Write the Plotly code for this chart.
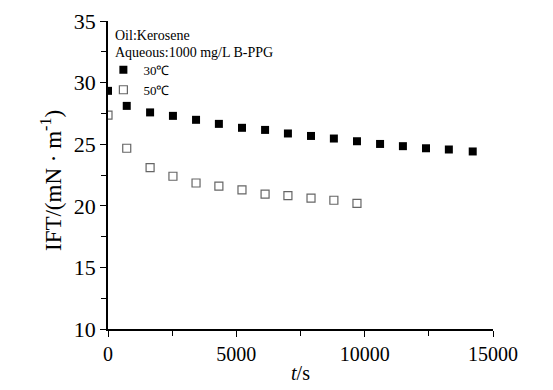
import plotly.graph_objects as go

t30 = [0, 730, 1640, 2530, 3430, 4320, 5220, 6120, 7010, 7910, 8800, 9700, 10600, 11490, 12390, 13280, 14210]
ift30 = [29.33, 28.11, 27.58, 27.30, 26.98, 26.65, 26.33, 26.16, 25.87, 25.67, 25.46, 25.24, 25.02, 24.84, 24.67, 24.57, 24.41]
t50 = [0, 730, 1640, 2530, 3430, 4320, 5220, 6120, 7010, 7910, 8800, 9700]
ift50 = [27.36, 24.67, 23.10, 22.40, 21.85, 21.60, 21.30, 20.94, 20.83, 20.63, 20.45, 20.20]
x_ticks = [0, 5000, 10000, 15000]
x_ticktext = ["0", "5000", "10000", "15000"]
y_ticks = [10, 15, 20, 25, 30, 35]

font = "Liberation Serif, Times New Roman, serif"

fig = go.Figure()
fig.add_trace(go.Scatter(x=t30, y=ift30, mode="markers", name="30℃",
                         marker=dict(symbol="square", size=8, color="black")))
fig.add_trace(go.Scatter(x=t50, y=ift50, mode="markers", name="50℃",
                         marker=dict(symbol="square-open", size=8, color="#666666",
                                     line=dict(width=1.2, color="#666666"))))

fig.update_layout(
    width=553, height=390,
    margin=dict(l=108, r=60, t=21, b=61, autoexpand=False),
    paper_bgcolor="white", plot_bgcolor="white",
    font=dict(family=font, color="black"),
    showlegend=True,
    legend=dict(x=-0.012, y=0.89, xanchor="left", yanchor="top",
                font=dict(size=13, family=font), bgcolor="rgba(0,0,0,0)",
                itemwidth=30, tracegroupgap=0),
    xaxis=dict(range=[0, 15000], showline=True, linecolor="black", linewidth=1.5,
               ticks="outside", ticklen=6, tickwidth=1.2, tickcolor="black",
               tickvals=x_ticks, ticktext=x_ticktext, showgrid=False, zeroline=False,
               automargin=False,
               minor=dict(ticks="outside", ticklen=5, tickwidth=1.2, tickcolor="black",
                          tickvals=[2500, 7500, 12500], showgrid=False),
               tickfont=dict(size=20, family=font),
               title=dict(text="<i>t</i>/s", font=dict(size=20, family=font), standoff=2)),
    yaxis=dict(range=[10, 35], showline=True, linecolor="black", linewidth=1.5,
               ticks="outside", ticklen=6, tickwidth=1.2, tickcolor="black",
               tickvals=y_ticks, showgrid=False, zeroline=False,
               automargin=False,
               minor=dict(ticks="outside", ticklen=5, tickwidth=1.2, tickcolor="black",
                          tickvals=[12.5, 17.5, 22.5, 27.5, 32.5], showgrid=False),
               tickfont=dict(size=22, family=font)),
    annotations=[
        dict(text="Oil:Kerosene", x=0.012, y=0.985, xref="paper", yref="paper",
             xanchor="left", yanchor="top", showarrow=False, font=dict(size=14, family=font)),
        dict(text="Aqueous:1000 mg/L B-PPG", x=0.012, y=0.93, xref="paper", yref="paper",
             xanchor="left", yanchor="top", showarrow=False, font=dict(size=14, family=font)),
        dict(text="IFT/(mN · m<sup>-1</sup>)", x=-0.145, y=0.481, xref="paper", yref="paper",
             xanchor="center", yanchor="middle", textangle=-90, showarrow=False,
             font=dict(size=23, family=font)),
    ],
)

fig.write_html("out.html", config={"displayModeBar": False},
               post_script="document.body.style.margin='0';document.body.style.overflow='hidden';")
